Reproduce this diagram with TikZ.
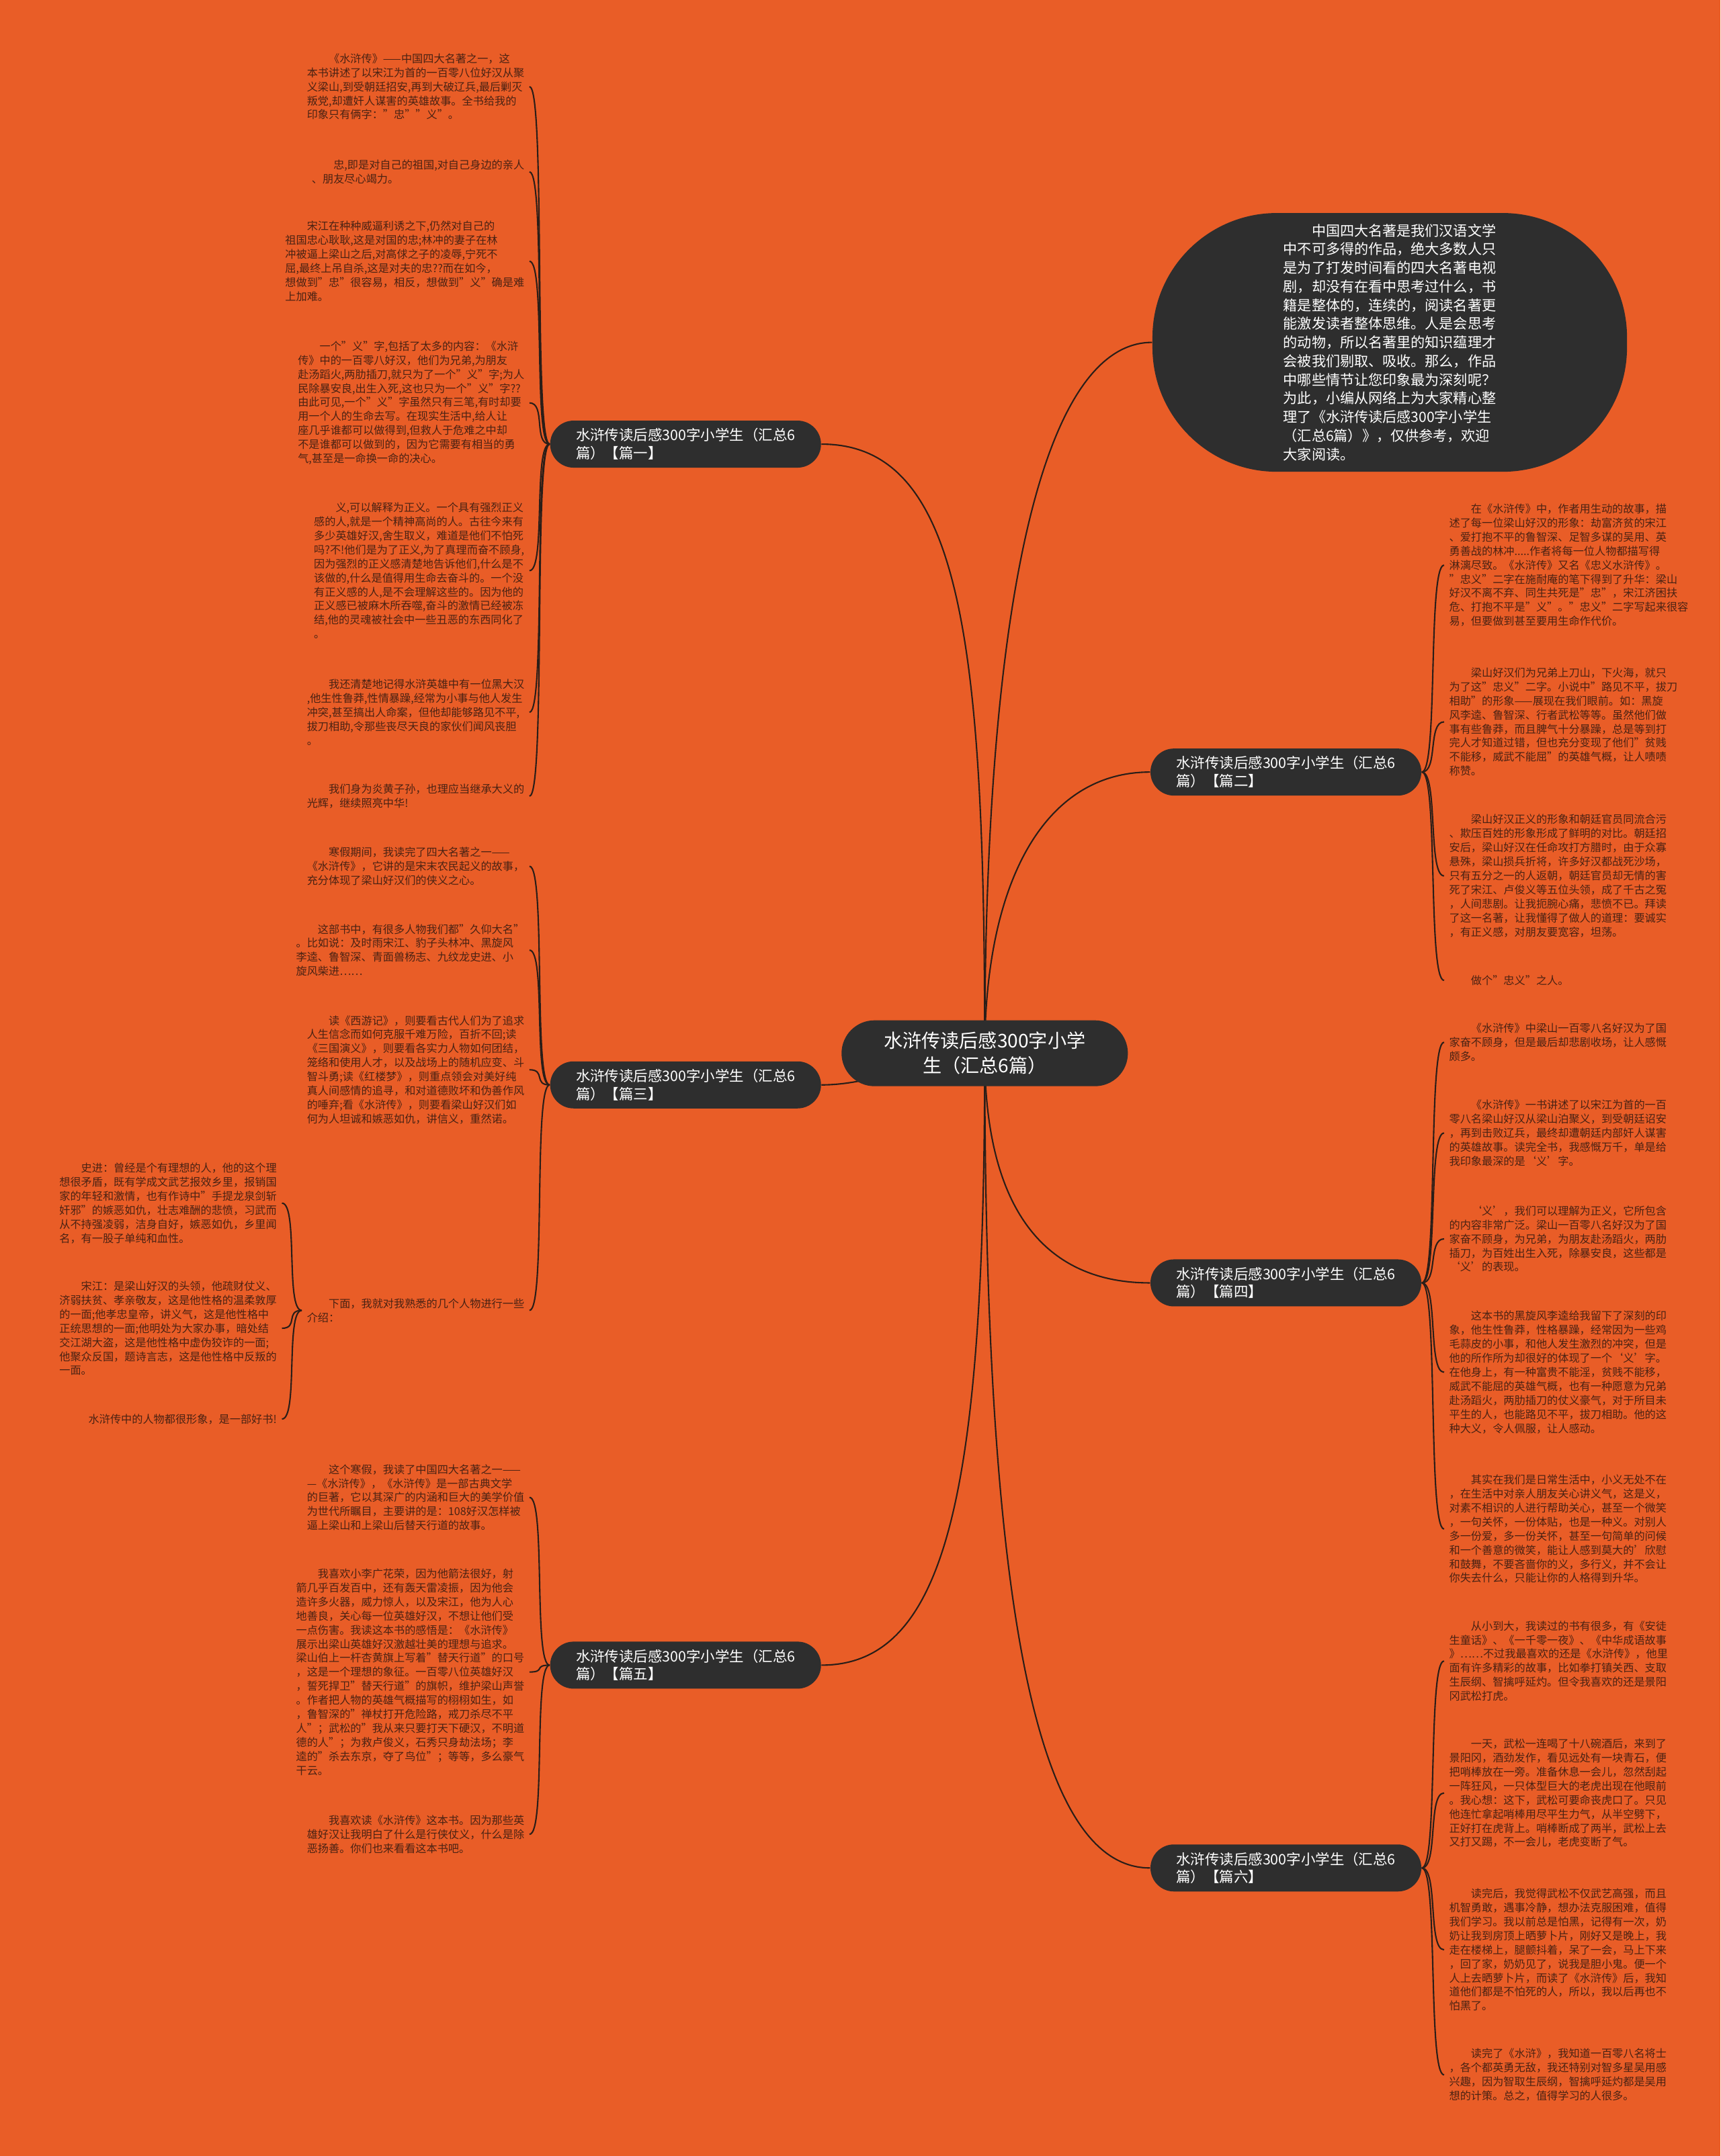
\documentclass[tikz,border=0pt]{standalone}
\usepackage{fontspec}
\setmainfont{Noto Sans CJK SC}
\usetikzlibrary{backgrounds}
\definecolor{bgorange}{HTML}{E95D27}
\definecolor{nodegray}{HTML}{2E2E2E}
\definecolor{leaftxt}{HTML}{4A2213}
\definecolor{linkcol}{HTML}{2B1E18}
\tikzset{
  leaf/.style={font=\fontsize{4.6}{5.95}\selectfont, text=leaftxt, align=left, inner xsep=2pt, inner ysep=0pt},
  pian/.style={fill=nodegray, text=white, rounded corners=0.35cm, minimum width=4.03cm, minimum height=0.7cm,
    font=\fontsize{6.1}{7.6}\selectfont, align=left, inner sep=0pt},
  link/.style={draw=linkcol, line width=0.6pt},
}
\begin{document}
\begin{tikzpicture}[x=0.2046mm, y=-0.2046mm]
\useasboundingbox (0,0) rectangle (1251,1568);

\node[fill=nodegray, text=white, rounded corners=0.49cm, minimum width=4.26cm, minimum height=0.98cm,
  font=\fontsize{8}{10.5}\selectfont, align=center, inner sep=0pt] (root) at (716,766)
  {水浒传读后感300字小学\\生（汇总6篇）};

\node[fill=nodegray, text=white, rounded corners=1.85cm, minimum width=7.06cm, minimum height=3.85cm,
  font=\fontsize{6}{7.9}\selectfont, align=left, inner sep=0pt] (intro) at (1010.5,249)
  {\hspace*{2em}中国四大名著是我们汉语文学\\
  中不可多得的作品，绝大多数人只\\
  是为了打发时间看的四大名著电视\\
  剧，却没有在看中思考过什么，书\\
  籍是整体的，连续的，阅读名著更\\
  能激发读者整体思维。人是会思考\\
  的动物，所以名著里的知识蕴理才\\
  会被我们剔取、吸收。那么，作品\\
  中哪些情节让您印象最为深刻呢？\\
  为此，小编从网络上为大家精心整\\
  理了《水浒传读后感300字小学生\\
  （汇总6篇）》，仅供参考，欢迎\\
  大家阅读。};

\node[pian] (p1) at (498.5,323) {水浒传读后感300字小学生（汇总6\\篇）【篇一】};
\node[pian] (p3) at (498.5,789) {水浒传读后感300字小学生（汇总6\\篇）【篇三】};
\node[pian] (p5) at (498.5,1211) {水浒传读后感300字小学生（汇总6\\篇）【篇五】};
\node[pian] (p2) at (935,561.5) {水浒传读后感300字小学生（汇总6\\篇）【篇二】};
\node[pian] (p4) at (935,933) {水浒传读后感300字小学生（汇总6\\篇）【篇四】};
\node[pian] (p6) at (935,1358.5) {水浒传读后感300字小学生（汇总6\\篇）【篇六】};

% pian yi
\node[leaf, anchor=east] (l11) at (385,63) {\hspace*{2em}《水浒传》——中国四大名著之一，这\\
本书讲述了以宋江为首的一百零八位好汉从聚\\
义梁山,到受朝廷招安,再到大破辽兵,最后剿灭\\
叛党,却遭奸人谋害的英雄故事。全书给我的\\
印象只有俩字："忠""义"。};
\node[leaf, anchor=east] (l12) at (385,125) {\hspace*{2em}忠,即是对自己的祖国,对自己身边的亲人\\
、朋友尽心竭力。};
\node[leaf, anchor=east] (l13) at (385,190) {\hspace*{2em}宋江在种种威逼利诱之下,仍然对自己的\\
祖国忠心耿耿,这是对国的忠;林冲的妻子在林\\
冲被逼上梁山之后,对高俅之子的凌辱,宁死不\\
屈,最终上吊自杀,这是对夫的忠??而在如今，\\
想做到"忠"很容易，相反，想做到"义"确是难\\
上加难。};
\node[leaf, anchor=east] (l14) at (385,293) {\hspace*{2em}一个"义"字,包括了太多的内容：《水浒\\
传》中的一百零八好汉，他们为兄弟,为朋友\\
赴汤蹈火,两肋插刀,就只为了一个"义"字;为人\\
民除暴安良,出生入死,这也只为一个"义"字??\\
由此可见,一个"义"字虽然只有三笔,有时却要\\
用一个人的生命去写。在现实生活中,给人让\\
座几乎谁都可以做得到,但救人于危难之中却\\
不是谁都可以做到的，因为它需要有相当的勇\\
气,甚至是一命换一命的决心。};
\node[leaf, anchor=east] (l15) at (385,415) {\hspace*{2em}义,可以解释为正义。一个具有强烈正义\\
感的人,就是一个精神高尚的人。古往今来有\\
多少英雄好汉,舍生取义，难道是他们不怕死\\
吗?不!他们是为了正义,为了真理而奋不顾身,\\
因为强烈的正义感清楚地告诉他们,什么是不\\
该做的,什么是值得用生命去奋斗的。一个没\\
有正义感的人,是不会理解这些的。因为他的\\
正义感已被麻木所吞噬,奋斗的激情已经被冻\\
结,他的灵魂被社会中一些丑恶的东西同化了\\
。};
\node[leaf, anchor=east] (l16) at (385,518) {\hspace*{2em}我还清楚地记得水浒英雄中有一位黑大汉\\
,他生性鲁莽,性情暴躁,经常为小事与他人发生\\
冲突,甚至搞出人命案，但他却能够路见不平,\\
拔刀相助,令那些丧尽天良的家伙们闻风丧胆\\
。};
\node[leaf, anchor=east] (l17) at (385,579) {\hspace*{2em}我们身为炎黄子孙，也理应当继承大义的\\
光辉，继续照亮中华!};

% pian san
\node[leaf, anchor=east] (l31) at (385,630) {\hspace*{2em}寒假期间，我读完了四大名著之一——\\
《水浒传》，它讲的是宋末农民起义的故事，\\
充分体现了梁山好汉们的侠义之心。};
\node[leaf, anchor=east] (l32) at (385,691) {\hspace*{2em}这部书中，有很多人物我们都"久仰大名"\\
。比如说：及时雨宋江、豹子头林冲、黑旋风\\
李逵、鲁智深、青面兽杨志、九纹龙史进、小\\
旋风柴进……};
\node[leaf, anchor=east] (l33) at (385,778) {\hspace*{2em}读《西游记》，则要看古代人们为了追求\\
人生信念而如何克服千难万险，百折不回;读\\
《三国演义》，则要看各实力人物如何团结，\\
笼络和使用人才，以及战场上的随机应变、斗\\
智斗勇;读《红楼梦》，则重点领会对美好纯\\
真人间感情的追寻，和对道德败坏和伪善作风\\
的唾弃;看《水浒传》，则要看梁山好汉们如\\
何为人坦诚和嫉恶如仇，讲信义，重然诺。};
\node[leaf, anchor=east] (l34) at (385,953) {\hspace*{2em}下面，我就对我熟悉的几个人物进行一些\\
介绍：};

\node[leaf, anchor=east] (l341) at (205,875) {\hspace*{2em}史进：曾经是个有理想的人，他的这个理\\
想很矛盾，既有学成文武艺报效乡里，报销国\\
家的年轻和激情，也有作诗中"手提龙泉剑斩\\
奸邪"的嫉恶如仇，壮志难酬的悲愤，习武而\\
从不持强凌弱，洁身自好，嫉恶如仇，乡里闻\\
名，有一股子单纯和血性。};
\node[leaf, anchor=east] (l342) at (205,966) {\hspace*{2em}宋江：是梁山好汉的头领，他疏财仗义、\\
济弱扶贫、孝亲敬友，这是他性格的温柔敦厚\\
的一面;他孝忠皇帝，讲义气，这是他性格中\\
正统思想的一面;他明处为大家办事，暗处结\\
交江湖大盗，这是他性格中虚伪狡诈的一面;\\
他聚众反国，题诗言志，这是他性格中反叛的\\
一面。};
\node[leaf, anchor=east] (l343) at (205,1032) {水浒传中的人物都很形象，是一部好书!};

% pian wu
\node[leaf, anchor=east] (l51) at (385,1089) {\hspace*{2em}这个寒假，我读了中国四大名著之一——\\
—《水浒传》，《水浒传》是一部古典文学\\
的巨著，它以其深广的内涵和巨大的美学价值\\
为世代所瞩目，主要讲的是：108好汉怎样被\\
逼上梁山和上梁山后替天行道的故事。};
\node[leaf, anchor=east] (l52) at (385,1216) {\hspace*{2em}我喜欢小李广花荣，因为他箭法很好，射\\
箭几乎百发百中，还有轰天雷凌振，因为他会\\
造许多火器，威力惊人，以及宋江，他为人心\\
地善良，关心每一位英雄好汉，不想让他们受\\
一点伤害。我读这本书的感悟是：《水浒传》\\
展示出梁山英雄好汉激越壮美的理想与追求。\\
梁山伯上一杆杏黄旗上写着"替天行道"的口号\\
，这是一个理想的象征。一百零八位英雄好汉\\
，誓死捍卫"替天行道"的旗帜，维护梁山声誉\\
。作者把人物的英雄气概描写的栩栩如生，如\\
，鲁智深的"禅杖打开危险路，戒刀杀尽不平\\
人"；武松的"我从来只要打天下硬汉，不明道\\
德的人"；为救卢俊义，石秀只身劫法场；李\\
逵的"杀去东京，夺了鸟位"；等等，多么豪气\\
干云。};
\node[leaf, anchor=east] (l53) at (385,1334) {\hspace*{2em}我喜欢读《水浒传》这本书。因为那些英\\
雄好汉让我明白了什么是行侠仗义，什么是除\\
恶扬善。你们也来看看这本书吧。};

% pian er
\node[leaf, anchor=west] (r21) at (1050,411) {\hspace*{2em}在《水浒传》中，作者用生动的故事，描\\
述了每一位梁山好汉的形象：劫富济贫的宋江\\
、爱打抱不平的鲁智深、足智多谋的吴用、英\\
勇善战的林冲.....作者将每一位人物都描写得\\
淋漓尽致。《水浒传》又名《忠义水浒传》。\\
"忠义"二字在施耐庵的笔下得到了升华：梁山\\
好汉不离不弃、同生共死是"忠"，宋江济困扶\\
危、打抱不平是"义"。"忠义"二字写起来很容\\
易，但要做到甚至要用生命作代价。};
\node[leaf, anchor=west] (r22) at (1050,525) {\hspace*{2em}梁山好汉们为兄弟上刀山，下火海，就只\\
为了这"忠义"二字。小说中"路见不平，拔刀\\
相助"的形象——展现在我们眼前。如：黑旋\\
风李逵、鲁智深、行者武松等等。虽然他们做\\
事有些鲁莽，而且脾气十分暴躁，总是等到打\\
完人才知道过错，但也充分变现了他们"贫贱\\
不能移，威武不能屈"的英雄气概，让人啧啧\\
称赞。};
\node[leaf, anchor=west] (r23) at (1050,637) {\hspace*{2em}梁山好汉正义的形象和朝廷官员同流合污\\
、欺压百姓的形象形成了鲜明的对比。朝廷招\\
安后，梁山好汉在任命攻打方腊时，由于众寡\\
悬殊，梁山损兵折将，许多好汉都战死沙场，\\
只有五分之一的人返朝，朝廷官员却无情的害\\
死了宋江、卢俊义等五位头领，成了千古之冤\\
，人间悲剧。让我扼腕心痛，悲愤不已。拜读\\
了这一名著，让我懂得了做人的道理：要诚实\\
，有正义感，对朋友要宽容，坦荡。};
\node[leaf, anchor=west] (r24) at (1050,713) {\hspace*{2em}做个"忠义"之人。};

% pian si
\node[leaf, anchor=west] (r41) at (1050,758) {\hspace*{2em}《水浒传》中梁山一百零八名好汉为了国\\
家奋不顾身，但是最后却悲剧收场，让人感慨\\
颇多。};
\node[leaf, anchor=west] (r42) at (1050,824) {\hspace*{2em}《水浒传》一书讲述了以宋江为首的一百\\
零八名梁山好汉从梁山泊聚义，到受朝廷诏安\\
，再到击败辽兵，最终却遭朝廷内部奸人谋害\\
的英雄故事。读完全书，我感慨万千，单是给\\
我印象最深的是‘义’字。};
\node[leaf, anchor=west] (r43) at (1050,901) {\hspace*{2em}‘义’，我们可以理解为正义，它所包含\\
的内容非常广泛。梁山一百零八名好汉为了国\\
家奋不顾身，为兄弟，为朋友赴汤蹈火，两肋\\
插刀，为百姓出生入死，除暴安良，这些都是\\
‘义’的表现。};
\node[leaf, anchor=west] (r44) at (1050,998) {\hspace*{2em}这本书的黑旋风李逵给我留下了深刻的印\\
象，他生性鲁莽，性格暴躁，经常因为一些鸡\\
毛蒜皮的小事，和他人发生激烈的冲突，但是\\
他的所作所为却很好的体现了一个‘义’字。\\
在他身上，有一种富贵不能淫，贫贱不能移，\\
威武不能屈的英雄气概，也有一种愿意为兄弟\\
赴汤蹈火，两肋插刀的仗义豪气，对于所目未\\
平生的人，也能路见不平，拔刀相助。他的这\\
种大义，令人佩服，让人感动。};
\node[leaf, anchor=west] (r45) at (1050,1112) {\hspace*{2em}其实在我们是日常生活中，小义无处不在\\
，在生活中对亲人朋友关心讲义气，这是义，\\
对素不相识的人进行帮助关心，甚至一个微笑\\
，一句关怀，一份体贴，也是一种义。对别人\\
多一份爱，多一份关怀，甚至一句简单的问候\\
和一个善意的微笑，能让人感到莫大的'欣慰\\
和鼓舞，不要吝啬你的义，多行义，并不会让\\
你失去什么，只能让你的人格得到升华。};

% pian liu
\node[leaf, anchor=west] (r61) at (1050,1208) {\hspace*{2em}从小到大，我读过的书有很多，有《安徒\\
生童话》、《一千零一夜》、《中华成语故事\\
》……不过我最喜欢的还是《水浒传》，他里\\
面有许多精彩的故事，比如拳打镇关西、支取\\
生辰纲、智擒呼延灼。但令我喜欢的还是景阳\\
冈武松打虎。};
\node[leaf, anchor=west] (r62) at (1050,1304) {\hspace*{2em}一天，武松一连喝了十八碗酒后，来到了\\
景阳冈，酒劲发作，看见远处有一块青石，便\\
把哨棒放在一旁。准备休息一会儿，忽然刮起\\
一阵狂风，一只体型巨大的老虎出现在他眼前\\
。我心想：这下，武松可要命丧虎口了。只见\\
他连忙拿起哨棒用尽平生力气，从半空劈下，\\
正好打在虎背上。哨棒断成了两半，武松上去\\
又打又踢，不一会儿，老虎变断了气。};
\node[leaf, anchor=west] (r63) at (1050,1418) {\hspace*{2em}读完后，我觉得武松不仅武艺高强，而且\\
机智勇敢，遇事冷静，想办法克服困难，值得\\
我们学习。我以前总是怕黑，记得有一次，奶\\
奶让我到房顶上晒萝卜片，刚好又是晚上，我\\
走在楼梯上，腿颤抖着，呆了一会，马上下来\\
，回了家，奶奶见了，说我是胆小鬼。便一个\\
人上去晒萝卜片，而读了《水浒传》后，我知\\
道他们都是不怕死的人，所以，我以后再也不\\
怕黑了。};
\node[leaf, anchor=west] (r64) at (1050,1509) {\hspace*{2em}读完了《水浒》，我知道一百零八名将士\\
，各个都英勇无敌，我还特别对智多星吴用感\\
兴趣，因为智取生辰纲，智擒呼延灼都是吴用\\
想的计策。总之，值得学习的人很多。};

\begin{scope}[on background layer]
\fill[bgorange] (0,0) rectangle (1251,1568);
\draw[link] (root.center) .. controls (716,470) and (700,323) .. (p1.east);
\draw[link] (root.center) .. controls (716,430) and (760,249) .. (intro.west);
\draw[link] (root.center) .. controls (716,640) and (760,561.5) .. (p2.west);
\draw[link] (root.center) .. controls (680,766) and (640,789) .. (p3.east);
\draw[link] (root.center) .. controls (716,880) and (760,933) .. (p4.west);
\draw[link] (root.center) .. controls (716,1080) and (690,1211) .. (p5.east);
\draw[link] (root.center) .. controls (716,1200) and (760,1358.5) .. (p6.west);
\foreach \l in {l11,l12,l13,l14,l15,l16,l17}
  \draw[link] (p1.west) .. controls +(-12,0) and +(12,0) .. (\l.east);
\foreach \l in {l31,l32,l33,l34}
  \draw[link] (p3.west) .. controls +(-12,0) and +(12,0) .. (\l.east);
\foreach \l in {l341,l342,l343}
  \draw[link] (l34.west) .. controls +(-12,0) and +(12,0) .. (\l.east);
\foreach \l in {l51,l52,l53}
  \draw[link] (p5.west) .. controls +(-12,0) and +(12,0) .. (\l.east);
\foreach \r in {r21,r22,r23,r24}
  \draw[link] (p2.east) .. controls +(12,0) and +(-12,0) .. (\r.west);
\foreach \r in {r41,r42,r43,r44,r45}
  \draw[link] (p4.east) .. controls +(12,0) and +(-12,0) .. (\r.west);
\foreach \r in {r61,r62,r63,r64}
  \draw[link] (p6.east) .. controls +(12,0) and +(-12,0) .. (\r.west);
\end{scope}
\end{tikzpicture}
\end{document}
